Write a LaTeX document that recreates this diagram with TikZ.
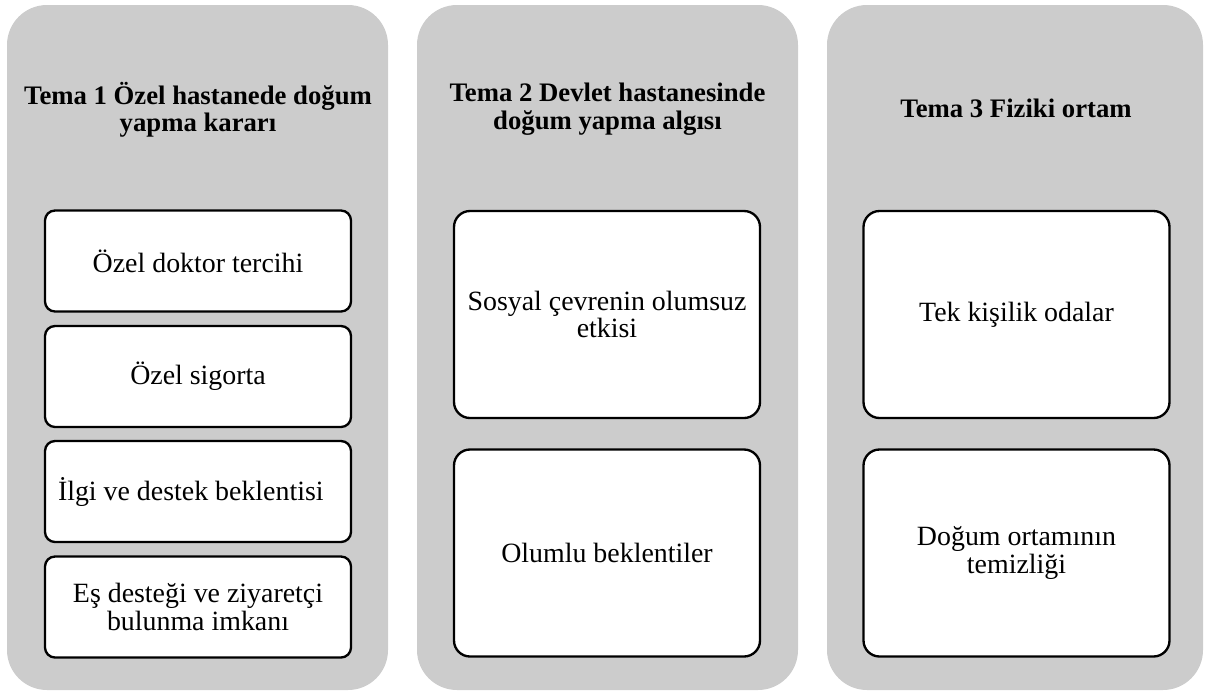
\documentclass[tikz,border=0pt]{standalone}
\usepackage{fontspec}
\setmainfont{Liberation Serif}
\usetikzlibrary{positioning}
\def\px{0.015cm}

\begin{document}
\begin{tikzpicture}[x=\px,y=-\px, font=\fontsize{11.9}{11.7}\selectfont]
    \tikzstyle{panel}=[fill=black!20, rounded corners=0.6cm, inner sep=0pt, minimum height=685*\px]
    \tikzstyle{theme}=[font=\fontsize{11.4}{11.7}\selectfont\bfseries, align=center]
    \tikzstyle{item}=[draw=black, line width=1pt, fill=white, align=center, inner sep=0pt, minimum width=306*\px]
    \tikzstyle{short item}=[item, rounded corners=0.15cm, minimum height=101*\px]
    \tikzstyle{tall item}=[item, rounded corners=0.24cm, minimum height=207*\px]

    \useasboundingbox (0,0) rectangle (1205,693);

	\foreach \i/\x/\w in {1/197.5/381, 2/607.5/381, 3/1015/376}{
		\node[panel, minimum width=\w*\px] (P-\i) at (\x,347.5) {};
	}

%   themes
	\node[theme] (T-1) at (198,110) {Tema 1 Özel hastanede doğum\\yapma kararı};
	\node[theme] (T-2) at (607.5,109) {Tema 2 Devlet hastanesinde\\doğum yapma algısı};
	\node[theme] (T-3) at (1016,108) {Tema 3 Fiziki ortam};

%   tema 1
	\node[short item] (A-1) at (198,261) {Özel doktor tercihi};
	\node[short item] (A-2) at (198,376.5) {Özel sigorta};
	\node[short item, text width=280*\px, align=flush left, inner xsep=13*\px] (A-3) at (198,491.5) {İlgi ve destek beklentisi};
	\node[short item] (A-4) at (198,607) {Eş desteği ve ziyaretçi\\bulunma imkanı};

%   tema 2
	\node[tall item] (B-1) at (607,314.5) {Sosyal çevrenin olumsuz\\etkisi};
	\node[tall item] (B-2) at (607,553) {Olumlu beklentiler};

%   tema 3
	\node[tall item] (C-1) at (1016.5,314.5) {Tek kişilik odalar};
	\node[tall item] (C-2) at (1016.5,553) {Doğum ortamının\\temizliği};
\end{tikzpicture}
\end{document}
